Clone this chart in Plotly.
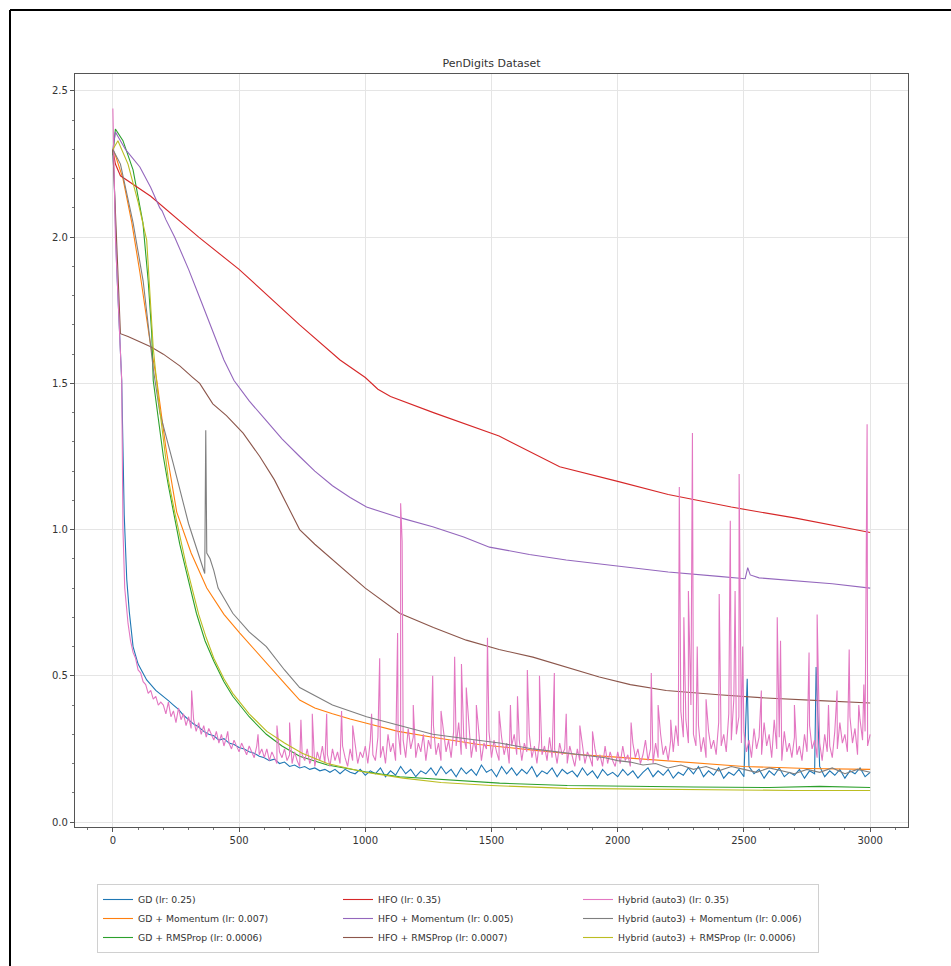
import plotly.graph_objects as go

# ---------------- data ----------------
gd_x = [0, 5, 15, 25, 35, 45, 55, 65, 80, 100, 134, 170, 200, 220, 240, 260, 280, 300, 320, 340, 360, 380]
gd_y = [2.30, 2.20, 1.90, 1.70, 1.51, 1.05, 0.83, 0.72, 0.60, 0.54, 0.486, 0.45, 0.43, 0.415, 0.40, 0.385,
        0.365, 0.35, 0.335, 0.325, 0.31, 0.30]
gd_noise_x = list(range(400, 3001, 20))
gd_noise_y = [0.295, 0.28, 0.285, 0.27, 0.265,
              0.255, 0.25, 0.24, 0.235, 0.225,
              0.22, 0.21, 0.215, 0.20, 0.205,
              0.19, 0.195, 0.185, 0.19, 0.18,
              0.185, 0.175, 0.18, 0.17, 0.18,
              0.165, 0.18, 0.17, 0.165, 0.18,
              0.16, 0.175, 0.165, 0.185, 0.155,
              0.175, 0.16, 0.19, 0.165, 0.18,
              0.155, 0.175, 0.165, 0.185, 0.16,
              0.19, 0.165, 0.18, 0.155, 0.185,
              0.165, 0.18, 0.16, 0.195, 0.17,
              0.18, 0.155, 0.19, 0.165, 0.185,
              0.16, 0.18, 0.165, 0.19, 0.155,
              0.175, 0.165, 0.185, 0.155, 0.18,
              0.165, 0.175, 0.155, 0.185, 0.16,
              0.175, 0.15, 0.18, 0.16, 0.17,
              0.155, 0.18, 0.16, 0.175, 0.15,
              0.17, 0.185, 0.155, 0.175, 0.16,
              0.18, 0.15, 0.17, 0.16, 0.185,
              0.165, 0.19, 0.155, 0.175, 0.16,
              0.185, 0.15, 0.17, 0.16, 0.18,
              0.155, 0.19, 0.165, 0.18, 0.15,
              0.175, 0.16, 0.185, 0.155, 0.17,
              0.16, 0.18, 0.15, 0.175, 0.165,
              0.19, 0.155, 0.175, 0.16, 0.18,
              0.15, 0.175, 0.165, 0.185, 0.155,
              0.17]
gd_spikes = [(2513, 0.49), (2786, 0.53)]

gdm_x = [0, 10, 40, 75, 107, 146, 174, 210, 253, 310, 372, 440, 503, 570, 634, 690, 740, 800, 870, 940,
         1005, 1130, 1267, 1450, 1664, 1830, 1995, 2250, 2500, 2750, 3000]
gdm_y = [2.30, 2.28, 2.20, 2.05, 1.88, 1.65, 1.51, 1.28, 1.06, 0.92, 0.80, 0.71, 0.646, 0.58, 0.52, 0.465,
         0.417, 0.39, 0.37, 0.352, 0.338, 0.31, 0.29, 0.265, 0.246, 0.232, 0.222, 0.205, 0.19, 0.183, 0.18]

gdr_x = [0, 10, 40, 80, 119, 140, 154, 160, 180, 200, 220, 240, 265, 290, 331, 365, 400, 440, 475, 540,
         608, 670, 740, 850, 1000, 1136, 1300, 1532, 1800, 2000, 2300, 2600, 2800, 3000]
gdr_y = [2.28, 2.37, 2.33, 2.23, 2.05, 1.85, 1.67, 1.51, 1.38, 1.25, 1.15, 1.06, 0.95, 0.86, 0.714, 0.62,
         0.55, 0.48, 0.43, 0.36, 0.30, 0.26, 0.225, 0.195, 0.172, 0.155, 0.145, 0.133, 0.125, 0.122,
         0.12, 0.118, 0.122, 0.118]

hfo_x = [0, 10, 30, 150, 340, 500, 740, 900, 1000, 1050, 1100, 1270, 1530, 1770, 2000, 2200, 2450, 2700, 3000]
hfo_y = [2.30, 2.25, 2.21, 2.14, 2.00, 1.89, 1.70, 1.58, 1.52, 1.48, 1.455, 1.40, 1.32, 1.215, 1.165, 1.12,
         1.077, 1.04, 0.99]

hfom_x = [0, 10, 50, 107, 150, 175, 186, 195, 210, 245, 300, 350, 400, 440, 480, 540, 600, 670, 740, 800,
          870, 940, 1005, 1140, 1267, 1390, 1492, 1650, 1796, 1995, 2200, 2400, 2505, 2515, 2525, 2560,
          2700, 2850, 3000]
hfom_y = [2.30, 2.36, 2.30, 2.24, 2.17, 2.12, 2.10, 2.09, 2.06, 2.00, 1.89, 1.78, 1.67, 1.58, 1.51, 1.44,
          1.38, 1.31, 1.25, 1.20, 1.15, 1.11, 1.077, 1.04, 1.01, 0.975, 0.94, 0.915, 0.896, 0.875, 0.855,
          0.84, 0.832, 0.87, 0.845, 0.835, 0.825, 0.815, 0.80]

hfor_x = [0, 10, 25, 30, 60, 100, 150, 200, 265, 317, 344, 396, 450, 516, 582, 640, 675, 710, 740, 800, 871,
          1000, 1136, 1270, 1400, 1530, 1664, 1800, 1927, 2050, 2192, 2400, 2588, 2800, 3000]
hfor_y = [2.30, 2.10, 1.75, 1.67, 1.66, 1.645, 1.625, 1.60, 1.56, 1.52, 1.50, 1.43, 1.39, 1.33, 1.25, 1.17,
          1.11, 1.05, 1.00, 0.95, 0.896, 0.80, 0.714, 0.665, 0.622, 0.59, 0.564, 0.53, 0.496, 0.47, 0.45,
          0.435, 0.424, 0.415, 0.407]

hyb_x = [0, 5, 10, 20, 30, 35, 40, 47, 60, 70, 80, 90, 100, 110, 120, 130, 140, 150, 160, 170, 180, 190]
hyb_y = [2.44, 2.25, 2.00, 1.80, 1.60, 1.51, 1.00, 0.80, 0.68, 0.62, 0.58, 0.56, 0.52, 0.51, 0.48, 0.47,
         0.44, 0.45, 0.42, 0.43, 0.40, 0.41]
hyb_noise_x = list(range(200, 3001, 10))
hyb_noise_y = [0.40, 0.37, 0.41, 0.36, 0.38, 0.34, 0.39, 0.35, 0.37, 0.33,
               0.36, 0.32, 0.35, 0.31, 0.34, 0.30, 0.33, 0.29, 0.32, 0.30,
               0.28, 0.31, 0.27, 0.30, 0.26, 0.29, 0.27, 0.25, 0.28, 0.26,
               0.24, 0.27, 0.25, 0.23, 0.26, 0.24, 0.22, 0.26, 0.23, 0.25,
               0.22, 0.25, 0.21, 0.24, 0.22, 0.20, 0.24, 0.22, 0.25, 0.21,
               0.23, 0.20, 0.24, 0.21, 0.19, 0.23, 0.21, 0.25, 0.20, 0.22,
               0.19, 0.24, 0.21, 0.26, 0.20, 0.23, 0.19, 0.25, 0.21, 0.24,
               0.20, 0.26, 0.22, 0.19, 0.25, 0.21, 0.27, 0.20, 0.24, 0.22,
               0.26, 0.20, 0.28, 0.23, 0.21, 0.29, 0.22, 0.26, 0.20, 0.30,
               0.24, 0.27, 0.21, 0.31, 0.23, 0.28, 0.22, 0.32, 0.25, 0.29,
               0.22, 0.27, 0.24, 0.30, 0.21, 0.28, 0.25, 0.33, 0.23, 0.27,
               0.21, 0.30, 0.24, 0.28, 0.22, 0.31, 0.26, 0.34, 0.23, 0.29,
               0.25, 0.32, 0.22, 0.28, 0.24, 0.30, 0.21, 0.27, 0.25, 0.31,
               0.22, 0.28, 0.24, 0.21, 0.29, 0.23, 0.27, 0.20, 0.26, 0.30,
               0.23, 0.28, 0.21, 0.27, 0.24, 0.30, 0.22, 0.26, 0.20, 0.28,
               0.23, 0.26, 0.21, 0.29, 0.22, 0.25, 0.20, 0.27, 0.23, 0.25,
               0.20, 0.26, 0.22, 0.19, 0.25, 0.21, 0.27, 0.20, 0.24, 0.22,
               0.19, 0.25, 0.21, 0.23, 0.19, 0.26, 0.20, 0.24, 0.21, 0.19,
               0.24, 0.20, 0.26, 0.21, 0.23, 0.19, 0.27, 0.22, 0.25, 0.20,
               0.23, 0.28, 0.21, 0.25, 0.20, 0.27, 0.22, 0.30, 0.23, 0.26,
               0.21, 0.28, 0.24, 0.33, 0.26, 0.38, 0.29, 0.35, 0.27, 0.40,
               0.30, 0.26, 0.33, 0.24, 0.29, 0.22, 0.31, 0.25, 0.28, 0.23,
               0.34, 0.26, 0.30, 0.24, 0.37, 0.28, 0.42, 0.30, 0.36, 0.27,
               0.31, 0.24, 0.28, 0.22, 0.32, 0.25, 0.29, 0.23, 0.34, 0.26,
               0.30, 0.22, 0.35, 0.25, 0.29, 0.21, 0.31, 0.24, 0.27, 0.22,
               0.29, 0.23, 0.26, 0.21, 0.30, 0.24, 0.33, 0.25, 0.28, 0.22,
               0.27, 0.21, 0.30, 0.24, 0.26, 0.22, 0.31, 0.25, 0.34, 0.27,
               0.30, 0.24, 0.36, 0.27, 0.32, 0.23, 0.35, 0.28, 0.31, 0.26,
               0.30]
hyb_spikes = [(312, 0.45), (455, 0.31), (575, 0.30), (650, 0.33), (700, 0.34), (745, 0.35), (790, 0.37),
              (847, 0.37), (906, 0.38), (950, 0.33), (1025, 0.37), (1057, 0.56), (1128, 0.646),
              (1140, 1.09), (1146, 0.96), (1190, 0.40), (1267, 0.50), (1300, 0.38), (1354, 0.565),
              (1381, 0.54), (1400, 0.46), (1440, 0.40), (1484, 0.63), (1530, 0.38), (1575, 0.40),
              (1603, 0.43), (1642, 0.52), (1690, 0.50), (1749, 0.51), (1796, 0.37), (1850, 0.33),
              (1900, 0.31), (2053, 0.34), (2133, 0.51), (2160, 0.40), (2210, 0.35), (2244, 1.146),
              (2262, 0.70), (2280, 0.79), (2296, 1.33), (2315, 0.60), (2350, 0.42), (2402, 0.78),
              (2446, 1.03), (2465, 0.79), (2481, 1.19), (2495, 0.60), (2569, 0.45), (2632, 0.70),
              (2645, 0.62), (2700, 0.40), (2758, 0.58), (2790, 0.71), (2835, 0.40), (2869, 0.45),
              (2917, 0.59), (2955, 0.40), (2975, 0.47), (2988, 1.36)]

hybm_x = [0, 30, 80, 120, 160, 186, 238, 300, 364, 368, 372, 385, 400, 417, 475, 540, 608, 680, 740, 870,
          1005, 1140, 1267, 1400, 1532, 1664, 1800, 1950, 2000, 2050, 2100, 2150, 2200, 2250, 2300, 2350,
          2400, 2450, 2500, 2550, 2600, 2650, 2700, 2750, 2800, 2850, 2900, 2950, 3000]
hybm_y = [2.30, 2.25, 2.05, 1.85, 1.55, 1.40, 1.23, 1.02, 0.85, 1.34, 0.92, 0.90, 0.86, 0.80, 0.714, 0.65,
          0.60, 0.52, 0.46, 0.40, 0.36, 0.33, 0.30, 0.285, 0.27, 0.25, 0.235, 0.22, 0.21, 0.205, 0.195,
          0.2, 0.185, 0.195, 0.18, 0.19, 0.175, 0.19, 0.18, 0.17, 0.185, 0.175, 0.165, 0.18, 0.17,
          0.185, 0.165, 0.18, 0.17]

hybr_x = [0, 20, 60, 100, 134, 150, 160, 180, 200, 220, 245, 270, 290, 340, 370, 400, 440, 475, 540, 610,
          680, 750, 850, 1000, 1150, 1300, 1500, 1800, 2100, 2400, 2700, 3000]
hybr_y = [2.30, 2.33, 2.25, 2.12, 1.99, 1.78, 1.62, 1.45, 1.30, 1.17, 1.06, 0.96, 0.88, 0.71, 0.63, 0.56,
          0.49, 0.44, 0.37, 0.31, 0.27, 0.235, 0.20, 0.17, 0.15, 0.135, 0.125, 0.115, 0.112, 0.11, 0.108,
          0.108]

names = ["GD (lr: 0.25)", "GD + Momentum (lr: 0.007)", "GD + RMSProp (lr: 0.0006)",
         "HFO (lr: 0.35)", "HFO + Momentum (lr: 0.005)", "HFO + RMSProp (lr: 0.0007)",
         "Hybrid (auto3) (lr: 0.35)", "Hybrid (auto3) + Momentum (lr: 0.006)",
         "Hybrid (auto3) + RMSProp (lr: 0.0006)"]
colors = ["#1f77b4", "#ff7f0e", "#2ca02c", "#d62728", "#9467bd", "#8c564b", "#e377c2", "#7f7f7f", "#bcbd22"]
x_ticks = [0, 500, 1000, 1500, 2000, 2500, 3000]
y_ticks = [0.0, 0.5, 1.0, 1.5, 2.0, 2.5]


def merged(xa, ya, nx, ny, spikes):
    pts = list(zip(xa, ya)) + list(zip(nx, ny)) + list(spikes)
    pts.sort(key=lambda p: p[0])
    return [p[0] for p in pts], [p[1] for p in pts]


series = [
    merged(gd_x, gd_y, gd_noise_x, gd_noise_y, gd_spikes),
    (gdm_x, gdm_y), (gdr_x, gdr_y), (hfo_x, hfo_y), (hfom_x, hfom_y), (hfor_x, hfor_y),
    merged(hyb_x, hyb_y, hyb_noise_x, hyb_noise_y, hyb_spikes),
    (hybm_x, hybm_y), (hybr_x, hybr_y),
]

fig = go.Figure()
for i, ((sx, sy), nm, c) in enumerate(zip(series, names, colors)):
    col, row = divmod(i, 3)
    fig.add_trace(go.Scatter(x=sx, y=sy, mode="lines", name=nm,
                             line=dict(color=c, width=1.1),
                             legendrank=row * 3 + col + 1))

W, H = 951, 966
L, R, T, B = 75, 908, 74, 827
def px(xp):
    return (xp - L) / (R - L)
def py(yp):
    return (B - yp) / (B - T)

fig.update_layout(
    width=W, height=H,
    margin=dict(l=L, r=W - R, t=T, b=H - B, autoexpand=False),
    paper_bgcolor="white", plot_bgcolor="white",
    font=dict(family="DejaVu Sans", size=10, color="#333"),
    title=dict(text="PenDigits Dataset", x=0.5, xref="paper", xanchor="center",
               y=1 - 63 / H, yanchor="middle", font=dict(size=11, color="#333")),
    showlegend=True,
    legend=dict(orientation="h", x=px(97), y=py(884), xanchor="left", yanchor="top",
                bordercolor="#d0d0d0", borderwidth=1, bgcolor="white",
                entrywidth=195, entrywidthmode="pixels", itemwidth=30,
                font=dict(size=9.3, color="#333"), traceorder="normal"),
    xaxis=dict(range=[-150, 3150], tickvals=x_ticks, showgrid=True, gridcolor="#e5e5e5", gridwidth=1,
               zeroline=False, showline=True, linecolor="#555", linewidth=1.3, mirror=True,
               ticks="outside", ticklen=4, tickcolor="#555",
               minor=dict(dtick=100, ticks="outside", ticklen=2, tickcolor="#777", showgrid=False)),
    yaxis=dict(range=[-0.017, 2.558], tickvals=y_ticks, tickformat=".1f", showgrid=True,
               gridcolor="#e5e5e5", gridwidth=1, zeroline=False, showline=True, linecolor="#555",
               linewidth=1.3, mirror=True, ticks="outside", ticklen=4, tickcolor="#555",
               minor=dict(dtick=0.1, ticks="outside", ticklen=2, tickcolor="#777", showgrid=False)),
)

# outer black frame (left and top edges visible in the picture)
fig.add_shape(type="line", xref="paper", yref="paper", x0=px(10), x1=px(10), y0=py(10), y1=py(966),
              line=dict(color="black", width=2))
fig.add_shape(type="line", xref="paper", yref="paper", x0=px(10), x1=px(951), y0=py(10), y1=py(10),
              line=dict(color="black", width=2))

fig.write_html("out.html")
